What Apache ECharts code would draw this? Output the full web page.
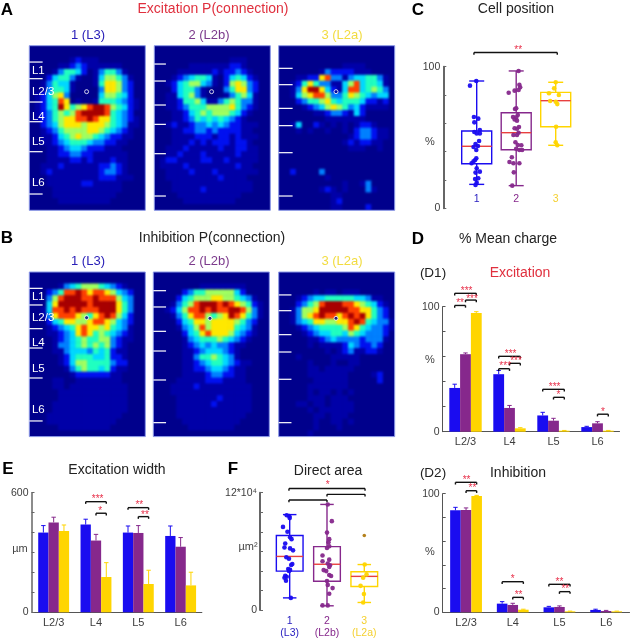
<!DOCTYPE html>
<html><head><meta charset="utf-8">
<script src="https://cdn.jsdelivr.net/npm/echarts@6/dist/echarts.min.js"></script>
<style>
html,body{margin:0;padding:0;background:#fff;}
#clip{position:absolute;left:0;top:0;width:631px;height:639px;
clip-path:path("M29.3 45.7h116v164.6h-116z M154.3 45.7h116v164.6h-116z M278.7 45.7h116v164.6h-116z M29.3 272h116v164.6h-116z M153.3 272h116v164.6h-116z M278.7 272h116v164.6h-116z");}
#heat{position:absolute;left:0;top:0;width:631px;height:639px;filter:blur(1.3px);}
#main{position:absolute;left:0;top:0;width:631px;height:639px;}
</style></head><body>
<div id="clip"><div id="heat"></div></div>
<div id="main"></div>
<script>
// Heat levels, 0 (none) to 9 (highest), row by row
const excitationL3=["00000000000000000000","00000000000000000000","00000001211100000000","00000112321111110000","00001355420135531000","00024553100146653100","00135441000157763200","00135541000037763200","01246730000046654200","01245870100155543210","01245975678998654210","01235656899998543200","01235677889877543210","00234677767776543110","00123566667765432100","00112456766543221100","00112345554332211000","00011234432221110000","00011223322111111000","00011112212111211000","00111211111122321000","00121111111123321000","00011111111122211100","00011111122111110000","00001111111111110000","00001111111111100000","00000111111111000000","00000000000000000000"];
const excitationL2b=["00000000000000000000","00000000000000000000","00000000000001110000","00000011111112210000","00001111112122321000","00012345541024542100","00124566431026763200","00024553100035773200","00114563100013564100","00112556411356533100","00112355566667532100","00011245656665421000","00011235454543210000","00121123343432211100","00011223323222211000","00011112221221211100","00011121212221221000","00111211111211221100","00112111211111211100","01221111221121111100","01111211111111211000","00111121112111111100","00111111111211110000","00011111111111111000","00011111211111111000","00001111111111100000","00000111111111000000","00000000000000000000"];
const excitationL2a=["00000000000000000000","00000000000000000000","00000000000000000000","00000000000111100000","00000001322221110000","00011227833134455310","00125753311468455410","00137997421488456530","00146788633576543440","00023556754555422120","00001234676534211110","00000011233214200000","00000000111111100000","00140021010101221000","00010100100102332110","00000000000012332110","00000000000121221100","00000000000011100100","00000000000000000000","00000000000000000000","00000000000000000000","00200003000000000000","00000000100000000000","00000000000100130000","00000001210100031000","00000000011000000000","00000000012000000000","00000000011000020000"];
const inhibitionL3=["00000000000000000000","00000000000000000000","00000134566654321000","00023588987887643200","00036899988988864300","00047999998999975300","00148898988899975300","00137888765789864200","00024577667887643200","00012345787767543100","00011234787565432100","00001234565566321100","00001334565656321000","00001134443545211000","00000124555445221000","00000124665555322000","00000013565545211000","00000001222222110000","00001100111111110000","00001101111111111000","00000111111111111000","00000111111111111000","00001111111111111000","00001111111111111000","00011111111111110000","00011111111111100000","00000111111111000000","00000000000000000000"];
const inhibitionL2b=["00000000000000000000","00000000000000000000","00000000111111110000","00000235566666420000","00002456667766543100","00013568999898765210","00124688989889986310","00013578865679875310","00002457767777653200","00001346867777543100","00000245787776432100","00000134555654321000","00000123434332110000","00000112344432100000","00000113556543100000","00000112345543211000","00000112234432110000","00000111123322110000","00001111122211110000","00011112111111111000","00011111111111111000","00001111111211111000","00001111112111111000","00001111111111111000","00001111111111110000","00000111111111100000","00000011111111000000","00000000000000000000"];
const inhibitionL2a=["00000000000000000000","00000000000000000000","00000000000000000000","00000010110111000000","00012344555554431100","00023568999887654210","00136679999988775320","00136789887898975320","00134577667789854331","00012345555687543321","00001234455465433320","00000112343333233310","00000101111243223200","00000000101231122100","00010000011111000000","00000100010011000000","00000110111110000000","00000111111100001200","00000011111100000200","00000111111100000000","00000101101010000000","00000111011100000000","00011011011110000000","00000101111110000000","00000011011100000000","00000010011010000000","00000010001000000000","00000100000000000000"];
const heatRows=[excitationL3,excitationL2b,excitationL2a,inhibitionL3,inhibitionL2b,inhibitionL2a];
const heatColors=['#00008c','#0000a8','#0010f0','#0080ff','#00d8ff','#20ffc0','#a0ff60','#ffe800','#ff4000','#a80000'];

// Layer borders (row units) per panel, soma position and tick length
const layerBorders=[[2.78,5.61,9.58,12.93,18.03,25.23],[3.12,6.01,10.09,13.38,18.37,25.57],[3.85,6.63,10.66,13.6,18.2,25.57],[2.78,5.61,9.64,12.93,18.03,25.34],[3.18,5.95,10.09,13.44,18.37,25.63],[3.9,6.58,10.66,13.61,18.25,25.63]];
const tickLengths=[2.3,2.0,2.4,2.3,2.2,2.2];
const somas=[[9.88,7.82],[9.88,7.82],[9.88,7.82],[9.88,7.77],[9.77,7.88],[9.88,7.88]];
const layerNames=['L1','L2/3','L4','L5','L6'];
const layerNameRows=[4.25,7.8,12.1,16.4,23.4];

// Panel C
const cellBoxes=[[1,16.9,31.5,43.8,54.6,89.9],[2,16,41.4,53.4,67.5,97],[3,44.5,57.6,76,81.9,89]];
const cellPts1=[[0.99,89.9],[0.83,86.6],[0.93,64.5],[1.04,63.3],[0.94,60.7],[1.08,55.3],[0.94,53.9],[1,52.9],[1.08,52.9],[1.06,47.5],[0.97,45.4],[1.03,44],[0.92,43.3],[0.99,41.2],[0.99,35.3],[0.96,34.1],[0.92,33.2],[0.87,31.8],[1,28.2],[1.08,25.9],[0.97,25.2],[1.04,21.2],[0.96,20.7],[1,18.1],[0.97,16.5]];
const cellPts2=[[2.06,97],[2.08,87.3],[2.1,85.4],[2.06,83.5],[1.96,83.1],[1.81,81.6],[2,70.6],[1.97,70.1],[2.04,65.9],[1.92,64.5],[2,64.2],[1.96,62.8],[2.02,61.9],[2.07,57.4],[1.96,56.5],[2.02,56.2],[2.06,53.4],[1.93,51.8],[2.02,51.8],[1.98,46.6],[2.04,44.7],[2.13,44.5],[2,42.1],[2.08,41.2],[2.15,41.2],[1.89,36],[1.83,32.7],[1.93,31.8],[2.08,31.8],[1.94,25.4],[1.9,16]];
const cellPts3=[[3,89],[2.96,84.7],[2.83,81.2],[3.08,80],[2.86,75.8],[3,75.3],[3.04,73.6],[3.01,57.6],[3,46.6],[3.04,44.5]];

// Panel F (units of 10^4)
const areaBoxes=[[1,1.24,3.98,5.48,7.62,9.76],[2,0.43,2.94,4.68,6.48,10.8],[3,0.77,2.41,3.44,3.91,4.65]];
const areaPts1=[[0.92,9.69],[0.99,9.6],[1,9.4],[0.82,8.5],[0.94,8],[1.01,7.45],[1.05,7.25],[0.88,6.8],[0.86,6.4],[1.01,6.3],[1.09,6.1],[0.91,5.4],[0.98,5.25],[1.07,4.7],[1.04,4.6],[0.96,4.2],[1.01,4.1],[0.98,4],[0.88,3.5],[0.92,3.4],[0.86,3.3],[0.9,3],[1.03,1.24]];
const areaPts2=[[2.02,10.8],[2.13,9.09],[2,7.92],[2.06,7.25],[2.04,6.92],[2,6.35],[2.06,6.52],[1.88,5.58],[2.06,5.15],[1.88,4.98],[2.02,4.75],[2.08,4.58],[2.06,4.41],[1.91,4.08],[1.98,3.98],[2.06,3.58],[2.11,3.48],[2,2.97],[2.02,2.57],[2.15,2.24],[2.06,1.67],[2.02,0.47],[1.88,0.47]];
const areaPts3=[[3.01,4.65],[3.06,3.64],[2.97,3.31],[2.9,2.47],[2.99,1.64],[2.97,0.77]];
const areaOutlier=[[3,7.62]];

// Bars
const layers=['L2/3','L4','L5','L6'];
const d1Values=[[35,46,13,3.7],[62,19,8.8,6.7],[95,2.7,0.8,0.8]];
const d1Errors=[[38,49,15.5,4.3],[63,21,10.7,8],[96,3.2,1,1]];
const d2Values=[[86,7.3,4.2,2],[86.2,6.2,4.5,1.1],[98,2.2,0.8,0.8]];
const d2Errors=[[88.5,9,5,2.6],[88,7.6,5.4,1.6],[98.6,2.6,1,1]];
const eValues=[[400,440,400,383],[451,360,398,329],[408,177,142,135]];
const eErrors=[[435,467,433,433],[477,391,435,375],[438,249,211,201]];

// Significance brackets: layer, from bar, to bar, height, stars, star bar, star height
const d1Brackets=[[0,-1,1,110.7,'***',0.1,114.1],[0,0,1,105.3,'***',0.6,107.5],[0,-1,0,101,'**',-0.5,104],[1,-1,1,60.3,'***',0.1,63.7],[1,0,1,54.7,'***',0.6,57.9],[1,-1,0,50.4,'***',-0.4,54.1],[2,-1,1,33.9,'***',0.1,37],[2,0,1,27.5,'*',0.45,30.4],[3,0,1,14,'*',0.5,17.1]];
const d2Brackets=[[0,-1,1,109.6,'**',0.05,112.9],[0,0,1,102.5,'**',0.6,106.2],[1,-1,1,25.8,'*',0,29.2],[1,0,1,12.6,'**',0.55,15.7],[2,-1,1,23.6,'**',0,27],[2,0,1,17.4,'**',0.55,21.1]];
const eBrackets=[[1,-1,1,555,'***',0.16,577],[1,0,1,497,'*',0.4,517],[2,-1,1,525,'**',0.1,547],[2,0,1,480,'**',0.65,497]];
// Brackets on the box panels: from x, to x, height, stars, star x, star height
const cBrackets=[[0.93,3.04,110,'**',2.05,113.3]];
const fBrackets=[[0.98,3.02,12.43,'*',2.02,12.95],[2,3.02,11.83,'',0,0],[0.98,2,11.26,'',0,0]];

const BLUE='#1a0cf0',PURPLE='#86288c',YELLOW='#ffd500',RED='#e8304a';
const barColors=[BLUE,PURPLE,YELLOW];
const FONT='"Liberation Sans"';
const panelRects=[[29.3,45.7],[154.3,45.7],[278.7,45.7],[29.3,272],[153.3,272],[278.7,272]];
const PW=116,PH=164.6;

/* ---------- heat layer ---------- */
const heatOption={animation:false,backgroundColor:heatColors[0],grid:[],xAxis:[],yAxis:[],series:[],
  visualMap:{show:false,min:0,max:9,dimension:2,inRange:{color:heatColors}}};
const colsIdx=[...Array(20).keys()].map(String),rowsIdx=[...Array(28).keys()].map(String);
heatRows.forEach((rows,i)=>{
  heatOption.grid.push({left:panelRects[i][0],top:panelRects[i][1],width:PW,height:PH,show:false});
  heatOption.xAxis.push({type:'category',gridIndex:i,data:colsIdx,show:false});
  heatOption.yAxis.push({type:'category',gridIndex:i,data:rowsIdx,inverse:true,show:false});
  const d=[];rows.forEach((r,y)=>[...r].forEach((c,x)=>d.push([x,y,+c])));
  heatOption.series.push({type:'heatmap',xAxisIndex:i,yAxisIndex:i,data:d,itemStyle:{borderWidth:0},progressive:0});
});
echarts.init(document.getElementById('heat'),null,{renderer:'canvas'}).setOption(heatOption);

/* ---------- main layer ---------- */
const grid=[],xAxis=[],yAxis=[],series=[];
function segs(lines,color,w){return lines.map(l=>({type:'line',shape:{x1:l[0],y1:l[1],x2:l[2],y2:l[3]},style:{stroke:color,lineWidth:w,fill:null},silent:true}));}

heatRows.forEach((_,i)=>{
  grid.push({left:panelRects[i][0],top:panelRects[i][1],width:PW,height:PH,show:true,borderColor:'#8a98e6',borderWidth:1,backgroundColor:'transparent'});
  xAxis.push({type:'value',gridIndex:i,min:0,max:20,show:false});
  yAxis.push({type:'value',gridIndex:i,min:0,max:28,inverse:true,show:false});
  const b=layerBorders[i],len=tickLengths[i];
  series.push({type:'custom',xAxisIndex:i,yAxisIndex:i,data:b.map(r=>[0,r]),clip:false,silent:true,
    renderItem:(p,api)=>{const a=api.coord([0,b[p.dataIndex]]),c=api.coord([len,b[p.dataIndex]]);
      return {type:'group',children:segs([[a[0],a[1],c[0],c[1]]],'#ffffff',1.2)};}});
  series.push({type:'scatter',xAxisIndex:i,yAxisIndex:i,data:[somas[i]],symbolSize:4,silent:true,
    itemStyle:{color:'#00008c',borderColor:'#ffffff',borderWidth:1}});
  if(i===0||i===3){
    series.push({type:'custom',xAxisIndex:i,yAxisIndex:i,data:layerNames.map((n,k)=>[0.45,layerNameRows[k]]),silent:true,
      renderItem:(p,api)=>{const c=api.coord([0.45,layerNameRows[p.dataIndex]]);
        return {type:'text',style:{text:layerNames[p.dataIndex],x:c[0],y:c[1],fill:'#ffffff',font:'11.5px '+FONT,align:'left',verticalAlign:'middle'}};}});
  }
});

function valAxis(g,max,interval,offset,axisColor,w,labelFn,size){
  return {type:'value',gridIndex:g,min:0,max,interval,offset,splitLine:{show:false},
    axisLine:{show:true,onZero:false,lineStyle:{color:axisColor,width:w}},
    axisTick:{show:true,inside:true,length:3,lineStyle:{color:axisColor,width:1}},
    axisLabel:{show:true,margin:3,color:'#3c3c3c',fontFamily:FONT,fontSize:size||10.5,formatter:labelFn||(v=>(v===0||v===max)?String(v):'')}};
}

function boxSeries(g,boxes,boxW,capW){
  series.push({type:'custom',xAxisIndex:g,yAxisIndex:g,data:boxes.map(b=>[b[0],b[3]]),silent:true,z:3,
    renderItem:(p,api)=>{const b=boxes[p.dataIndex],col=barColors[p.dataIndex];
      const x=api.coord([b[0],0])[0],Y=v=>api.coord([b[0],v])[1],h=boxW/2,ch=capW/2;
      return {type:'group',children:[
        {type:'rect',shape:{x:x-h,y:Y(b[4]),width:boxW,height:Y(b[2])-Y(b[4])},style:{fill:null,stroke:col,lineWidth:1.4}},
        ...segs([[x,Y(b[5]),x,Y(b[4])],[x,Y(b[2]),x,Y(b[1])],[x-ch,Y(b[5]),x+ch,Y(b[5])],[x-ch,Y(b[1]),x+ch,Y(b[1])]],col,1.4),
        ...segs([[x-h,Y(b[3]),x+h,Y(b[3])]],'#e8403f',1.4)]};}});
}
function pts(g,data,color,size){series.push({type:'scatter',xAxisIndex:g,yAxisIndex:g,data,symbolSize:size||4.6,silent:true,z:4,itemStyle:{color,opacity:0.95}});}

function starText(s,x,y,size){return {type:'text',style:{text:s,x,y:y+2,fill:RED,font:(size||10)+'px '+FONT,align:'center',verticalAlign:'middle'}};}

function barPanel(g,vals,errs,brackets,bw){
  vals.forEach((v,k)=>series.push({type:'bar',name:'s'+k,xAxisIndex:g,yAxisIndex:g,data:v,barWidth:bw,barGap:'0%',silent:true,itemStyle:{color:barColors[k]}}));
  const eb=[];errs.forEach((e,k)=>e.forEach((t,c)=>eb.push([c,k-1,vals[k][c],t,k])));
  series.push({type:'custom',xAxisIndex:g,yAxisIndex:g,data:eb.map(r=>[r[0],r[3]]),silent:true,clip:false,z:3,
    renderItem:(p,api)=>{const r=eb[p.dataIndex];const a=api.coord([r[0],r[2]]),t=api.coord([r[0],r[3]]);const x=a[0]+r[1]*bw;
      return {type:'group',children:segs([[x,a[1],x,t[1]],[x-2.2,t[1],x+2.2,t[1]]],barColors[r[4]],1)};}});
  series.push({type:'custom',xAxisIndex:g,yAxisIndex:g,data:brackets.map(r=>[r[0],r[3]]),silent:true,clip:false,z:5,
    renderItem:(p,api)=>{const r=brackets[p.dataIndex];const c=api.coord([r[0],r[3]]);const x0=c[0]+r[1]*bw,x1=c[0]+r[2]*bw,y=c[1];
      const s=api.coord([r[0],r[6]]);
      return {type:'group',children:[...segs([[x0,y+2.2,x0,y],[x0,y,x1,y],[x1,y,x1,y+2.2]],'#111',1.4),starText(r[4],s[0]+r[5]*bw,s[1])]};}});
}
function boxBrackets(g,brackets){
  series.push({type:'custom',xAxisIndex:g,yAxisIndex:g,data:brackets.map(r=>[r[0],r[2]]),silent:true,clip:false,z:5,
    renderItem:(p,api)=>{const r=brackets[p.dataIndex];const a=api.coord([r[0],r[2]]),b=api.coord([r[1],r[2]]);
      const kids=segs([[a[0],a[1]+2.2,a[0],a[1]],[a[0],a[1],b[0],a[1]],[b[0],a[1],b[0],a[1]+2.2]],'#111',1.4);
      if(r[3]){const s=api.coord([r[4],r[5]]);kids.push(starText(r[3],s[0],s[1]));}
      return {type:'group',children:kids};}});
}
function catAxis(g,marginV){return {type:'category',gridIndex:g,data:layers,axisTick:{show:false},
  axisLine:{show:true,onZero:false,lineStyle:{color:'#555',width:1.2}},
  axisLabel:{color:'#3c3c3c',fontFamily:FONT,fontSize:11,margin:marginV,interval:0}};}

// Panel C, grid 6
grid.push({left:437.2,top:66.7,width:142.2,height:141.6});
xAxis.push({type:'value',gridIndex:6,min:0,max:3.6,interval:1,splitLine:{show:false},axisLine:{show:false},axisTick:{show:false},
  axisLabel:{inside:true,margin:4,fontFamily:FONT,fontSize:10.5,showMaxLabel:false,color:v=>({1:'#2a20c0',2:'#86288c',3:'#f4d030'})[v]||'#000',formatter:v=>(v>=1&&v<=3)?String(v):''}});
yAxis.push(valAxis(6,100,20,-6.1,'#666',2));
boxSeries(6,cellBoxes,30,15);
pts(6,cellPts1,BLUE);pts(6,cellPts2,PURPLE);pts(6,cellPts3,YELLOW);
boxBrackets(6,cBrackets);

// Panel D1, grid 7
grid.push({left:443.5,top:306.7,width:176,height:125});
xAxis.push(catAxis(7,5));
yAxis.push(valAxis(7,100,20,1,'#555',1));
barPanel(7,d1Values,d1Errors,d1Brackets,10.8);

// Panel D2, grid 8
grid.push({left:442.7,top:493.7,width:186.8,height:118.6});
xAxis.push(catAxis(8,5));
yAxis.push(valAxis(8,100,20,0,'#555',1));
barPanel(8,d2Values,d2Errors,d2Brackets,10.6);

// Panel E, grid 9
grid.push({left:32.5,top:492.7,width:169.3,height:119.6});
xAxis.push(catAxis(9,5));
yAxis.push(valAxis(9,600,100,1,'#666',1.5));
barPanel(9,eValues,eErrors,eBrackets,10.3);

// Panel F, grid 10
grid.push({left:252.4,top:492.7,width:138,height:119.6});
xAxis.push({type:'value',gridIndex:10,min:0,max:3.7,interval:1,splitLine:{show:false},axisLine:{show:false},axisTick:{show:false},
  axisLabel:{margin:5,fontFamily:FONT,fontSize:10.5,lineHeight:12,showMaxLabel:false,color:v=>({1:'#2a20c0',2:'#86288c',3:'#f4d030'})[v]||'#000',
    formatter:v=>({1:'1\n(L3)',2:'2\n(L2b)',3:'3\n(L2a)'})[v]||''}});
yAxis.push(valAxis(10,12,2,-7.6,'#666',2,v=>v===12?'12*10⁴':(v===0?'0':'')));
boxSeries(10,areaBoxes,26.7,13.5);
pts(10,areaPts1,BLUE);pts(10,areaPts2,PURPLE);pts(10,areaPts3,YELLOW);
pts(10,areaOutlier,'#b07a10',3.6);
boxBrackets(10,fBrackets);

// Text
const texts=[
 ['A',7,10,17,'#000','bold'],['B',7,238,17,'#000','bold'],['C',418,10,17,'#000','bold'],['D',418,239,17,'#000','bold'],['E',8,469,17,'#000','bold'],['F',233,469,17,'#000','bold'],
 ['Excitation P(connection)',213,9.5,14,'#e0303e'],
 ['1 (L3)',88,35,13,'#2a20b8'],['2 (L2b)',209,35,13,'#7c3a8c'],['3 (L2a)',342,35,13,'#f2dc40'],
 ['Inhibition P(connection)',212,238,14,'#222'],
 ['1 (L3)',88,261,13,'#2a20b8'],['2 (L2b)',209,261,13,'#7c3a8c'],['3 (L2a)',342,261,13,'#f2dc40'],
 ['Cell position',516,9.5,14,'#222'],['% Mean charge',508,239,14,'#222'],
 ['(D1)',433,273,13.5,'#222'],['Excitation',520,273,14,'#e0303e'],
 ['(D2)',433,473,13.5,'#222'],['Inhibition',518,473,14,'#222'],
 ['Excitation width',117,470,14,'#222'],['Direct area',328,471,14,'#222'],
 ['%',430,142,11,'#444'],['%',430,360,11,'#444'],['%',430,552,11,'#444'],['µm',20,549,11,'#444'],['µm²',248,547,11,'#444']
];
const graphic=texts.map(t=>({type:'text',x:t[1],y:t[2],silent:true,style:{text:t[0],fill:t[4],align:'center',verticalAlign:'middle',font:(t[5]?t[5]+' ':'')+t[3]+'px '+FONT}}));

echarts.init(document.getElementById('main'),null,{renderer:'canvas'}).setOption({animation:false,backgroundColor:'transparent',grid,xAxis,yAxis,series,graphic});
</script>
</body></html>
